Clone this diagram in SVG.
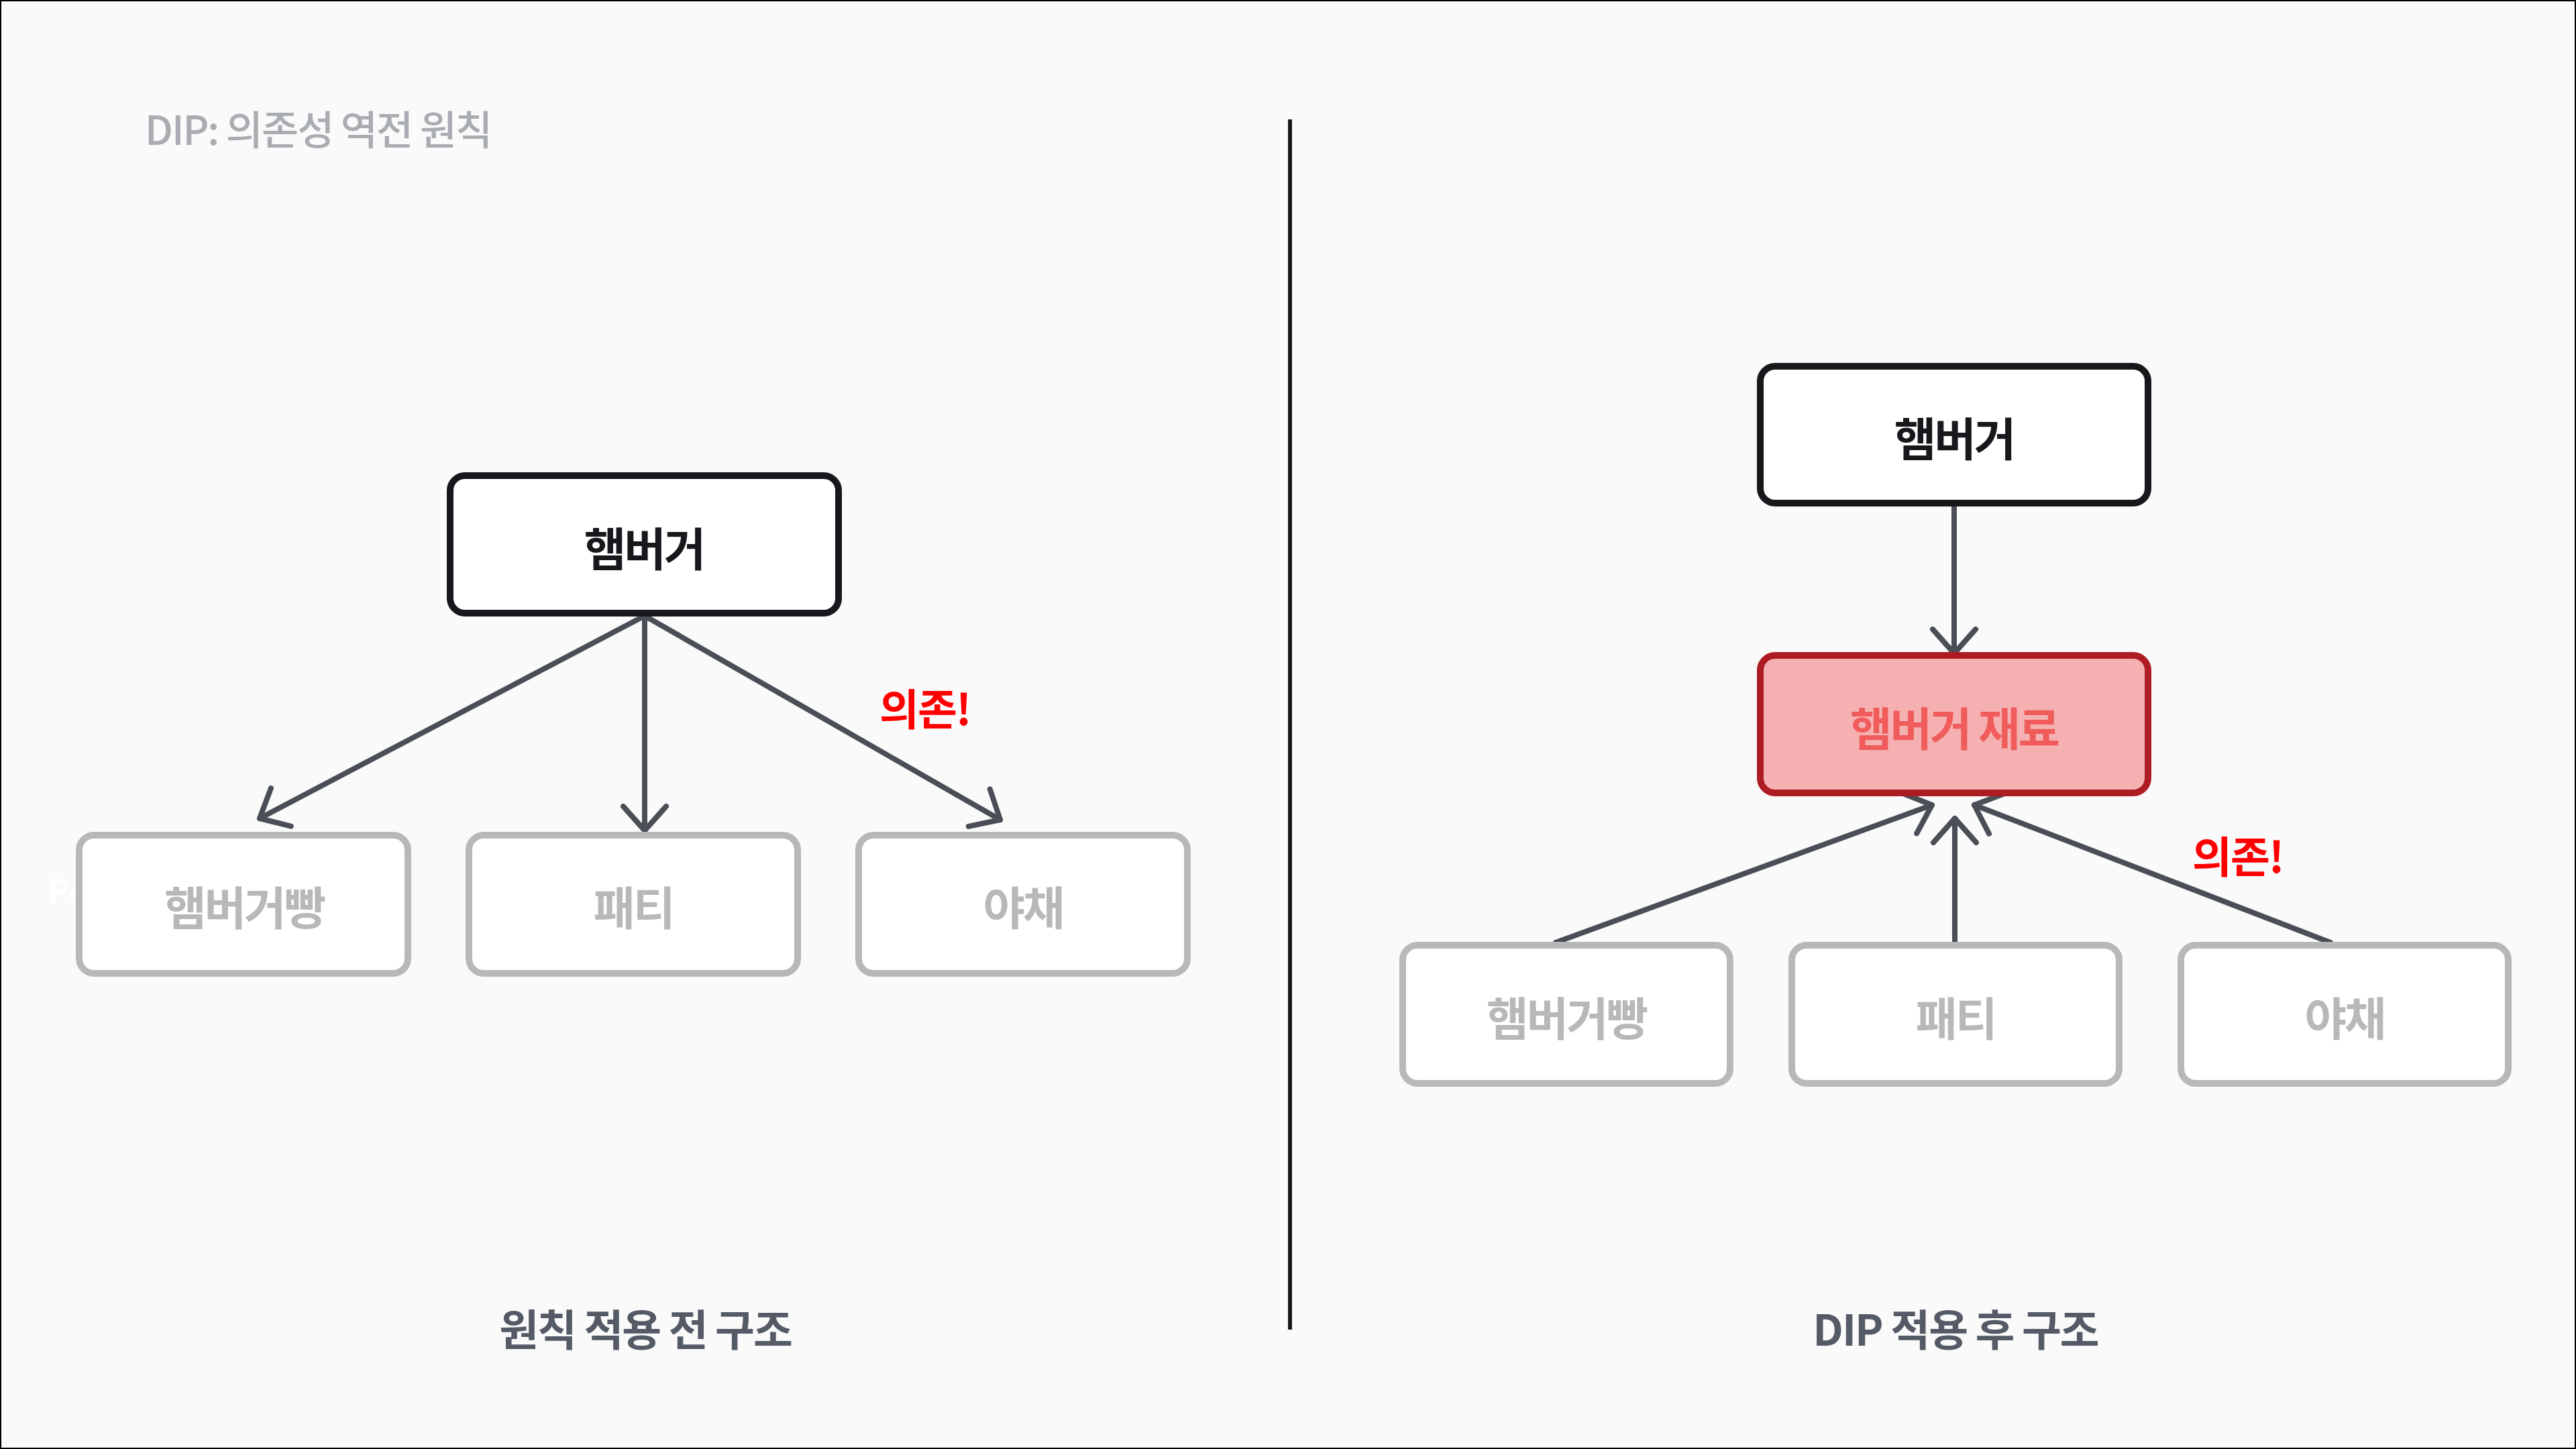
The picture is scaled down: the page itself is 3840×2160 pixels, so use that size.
<svg xmlns="http://www.w3.org/2000/svg" width="3840" height="2160" viewBox="0 0 3840 2160">
  <style>
    text { font-family: "Noto Sans CJK KR", "Noto Sans", sans-serif; }
    .node { fill: #ffffff; stroke: #18171c; stroke-width: 10; }
    .dim { fill: #ffffff; stroke: #b8b8b8; stroke-width: 10; }
    .hot { fill: #f5b1b1; stroke: #ad1c22; stroke-width: 10; }
    .lbl { font-size: 68px; font-weight: 700; text-anchor: middle; letter-spacing: -3px; }
    .lbl-dark { fill: #18171c; }
    .lbl-dim { fill: #b8b8b8; }
    .lbl-hot { fill: #f05c5c; }
    .edge { fill: none; stroke: #4a4f57; stroke-width: 8; stroke-linecap: round; marker-end: url(#ah); }
    .warn { font-size: 64px; font-weight: 700; fill: #ff0000; letter-spacing: -2px; }
    .caption { font-size: 64px; font-weight: 700; fill: #545b66; text-anchor: middle; letter-spacing: -2px; }
  </style>
  <defs>
    <marker id="ah" markerUnits="userSpaceOnUse" orient="auto" refX="0" refY="0" markerWidth="100" markerHeight="100" viewBox="-60 -50 100 100" overflow="visible">
      <path d="M-36,-32 L0,0 L-36,32" fill="none" stroke="#4a4f57" stroke-width="8" stroke-linecap="round" stroke-linejoin="round"/>
    </marker>
  </defs>

  <rect x="0" y="0" width="3840" height="2160" fill="#fafafa" stroke="#000000" stroke-width="4"/>

  <text x="216" y="216" font-size="60" font-weight="500" fill="#a9acb1" letter-spacing="-2">DIP: 의존성 역전 원칙</text>

  <rect id="divider" x="1920" y="178" width="6" height="1804" fill="#18171c"/>

  <text x="71" y="1346" font-size="48" font-weight="700" fill="#ffffff">Po</text>

  <g id="connectors">
    <line class="edge" x1="961" y1="918" x2="387" y2="1220"/>
    <line class="edge" x1="961" y1="918" x2="961" y2="1238"/>
    <line class="edge" x1="961" y1="918" x2="1491" y2="1222"/>
    <line class="edge" x1="2913" y1="752" x2="2913" y2="974"/>
    <line class="edge" x1="2319" y1="1405" x2="2880" y2="1200"/>
    <line class="edge" x1="2914" y1="1405" x2="2914" y2="1220"/>
    <line class="edge" x1="3474" y1="1405" x2="2943" y2="1200"/>
  </g>

  <!-- Left: before -->
  <g id="left-hamburger">
    <rect class="node" x="671" y="709" width="579" height="205" rx="22"/>
    <text class="lbl lbl-dark" x="960" y="844">햄버거</text>
  </g>
  <g id="left-bun">
    <rect class="dim" x="118" y="1245" width="490" height="206" rx="22"/>
    <text class="lbl lbl-dim" x="364" y="1379">햄버거빵</text>
  </g>
  <g id="left-patty">
    <rect class="dim" x="699" y="1245" width="490" height="206" rx="22"/>
    <text class="lbl lbl-dim" x="944" y="1379">패티</text>
  </g>
  <g id="left-veg">
    <rect class="dim" x="1280" y="1245" width="490" height="206" rx="22"/>
    <text class="lbl lbl-dim" x="1525" y="1379">야채</text>
  </g>
  <text class="warn" x="1311" y="1081">의존!</text>
  <text class="caption" x="962" y="2006">원칙 적용 전 구조</text>

  <!-- Right: after -->
  <g id="right-hamburger">
    <rect class="node" x="2624" y="546" width="578" height="204" rx="22"/>
    <text class="lbl lbl-dark" x="2913" y="680">햄버거</text>
  </g>
  <g id="right-ingredient">
    <rect class="hot" x="2624" y="977" width="578" height="205" rx="22"/>
    <text class="lbl lbl-hot" x="2913" y="1112">햄버거 재료</text>
  </g>
  <g id="right-bun">
    <rect class="dim" x="2091" y="1409" width="488" height="206" rx="22"/>
    <text class="lbl lbl-dim" x="2335" y="1544">햄버거빵</text>
  </g>
  <g id="right-patty">
    <rect class="dim" x="2671" y="1409" width="488" height="206" rx="22"/>
    <text class="lbl lbl-dim" x="2915" y="1544">패티</text>
  </g>
  <g id="right-veg">
    <rect class="dim" x="3251" y="1409" width="488" height="206" rx="22"/>
    <text class="lbl lbl-dim" x="3495" y="1544">야채</text>
  </g>
  <text class="warn" x="3268" y="1301">의존!</text>
  <text class="caption" x="2915" y="2006">DIP 적용 후 구조</text>
</svg>
